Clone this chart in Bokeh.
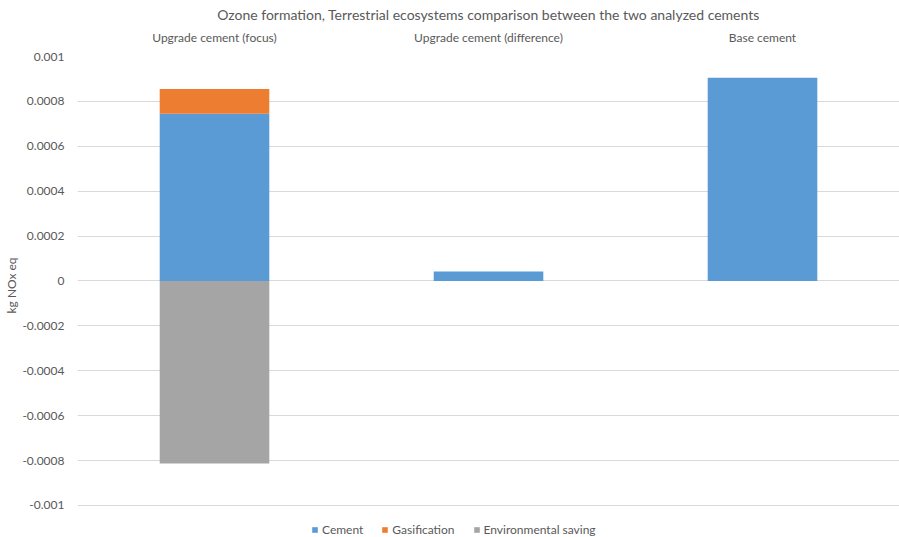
from bokeh.plotting import figure
from bokeh.models import (ColumnDataSource, FactorRange, Range1d, FixedTicker,
                          CustomJSTickFormatter, Legend, LegendItem, Title)
from bokeh.embed import file_html
from bokeh.resources import INLINE

categories = ["Upgrade cement (focus)", "Upgrade cement (difference)", "Base cement"]
cement = [0.000745, 0.000042, 0.000905]
gasification = [0.000110, 0.0, 0.0]
environmental_saving = [-0.000813, 0.0, 0.0]
y_ticks = [-0.001, -0.0008, -0.0006, -0.0004, -0.0002, 0, 0.0002, 0.0004, 0.0006, 0.0008, 0.001]

FONT = "Lato"
TXT = "#595959"

source = ColumnDataSource(dict(cat=categories, cement=cement,
                               gasification=gasification,
                               saving=environmental_saving))

# frame runs to the bottom of the canvas so that the legend sits inside it
y_top = y_ticks[-1]
y_bottom = y_ticks[0] - (32.0 / 224.0) * (y_ticks[-1] - 0)

p = figure(width=899, height=537, x_range=FactorRange(*categories, range_padding=0),
           y_range=Range1d(y_bottom, y_top), output_backend="svg", toolbar_location=None,
           x_axis_location="above",
           title="Ozone formation, Terrestrial ecosystems comparison between the two analyzed cements")
p.min_border_left = 75
p.min_border_right = 0
p.min_border_top = 56
p.min_border_bottom = 0
p.outline_line_color = None
p.background_fill_color = "white"
p.border_fill_color = "white"

p.title.align = "center"
p.title.text_font = FONT
p.title.text_font_size = "14px"
p.title.text_font_style = "normal"
p.title.text_color = TXT
p.title.offset = 0
p.title.standoff = 7

r = p.vbar_stack(["cement", "gasification"], x="cat", width=0.4, source=source,
                 color=["#5B9BD5", "#ED7D31"], line_color=None)
r3 = p.vbar(x="cat", top="saving", bottom=0, width=0.4, source=source,
            color="#A5A5A5", line_color=None)

# x axis (category labels on top)
xa = p.xaxis[0]
xa.axis_line_color = None
xa.major_tick_line_color = None
xa.minor_tick_line_color = None
xa.major_tick_out = 0
xa.major_tick_in = 0
xa.major_label_text_font = FONT
xa.major_label_text_font_size = "12px"
xa.major_label_text_color = TXT
xa.major_label_standoff = 12

ya = p.yaxis[0]
ya.ticker = FixedTicker(ticks=y_ticks)
ya.formatter = CustomJSTickFormatter(code="""
var s = tick.toFixed(4).replace(/0+$/, '').replace(/\\.$/, '');
if (s === '-0') s = '0';
return s;
""")
ya.axis_line_color = None
ya.major_tick_line_color = None
ya.minor_tick_line_color = None
ya.major_tick_out = 0
ya.major_tick_in = 0
ya.major_label_text_font = FONT
ya.major_label_text_font_size = "12px"
ya.major_label_text_color = TXT
ya.major_label_standoff = 13

# y axis title as a side title, anchored from the bottom of the frame
ytitle = Title(text="kg NOx eq", align="left", offset=224, standoff=2,
               text_font=FONT, text_font_size="12px", text_font_style="normal",
               text_color=TXT)
p.add_layout(ytitle, "left")

p.xgrid.grid_line_color = None
p.ygrid.ticker = FixedTicker(ticks=y_ticks)
p.ygrid.grid_line_color = "#D9D9D9"
p.ygrid.grid_line_width = 1

legend = Legend(items=[LegendItem(label="Cement", renderers=[r[0]]),
                       LegendItem(label="Gasification", renderers=[r[1]]),
                       LegendItem(label="Environmental saving", renderers=[r3])],
                orientation="horizontal", location=(234, 0))
legend.label_text_font = FONT
legend.label_text_font_size = "12px"
legend.label_text_color = TXT
legend.glyph_width = 7
legend.glyph_height = 7
legend.spacing = 18
legend.label_standoff = 4
legend.border_line_color = None
legend.background_fill_alpha = 0
legend.padding = 2
legend.margin = 0
p.add_layout(legend, "center")

open("out.html", "w").write(file_html(p, INLINE))
